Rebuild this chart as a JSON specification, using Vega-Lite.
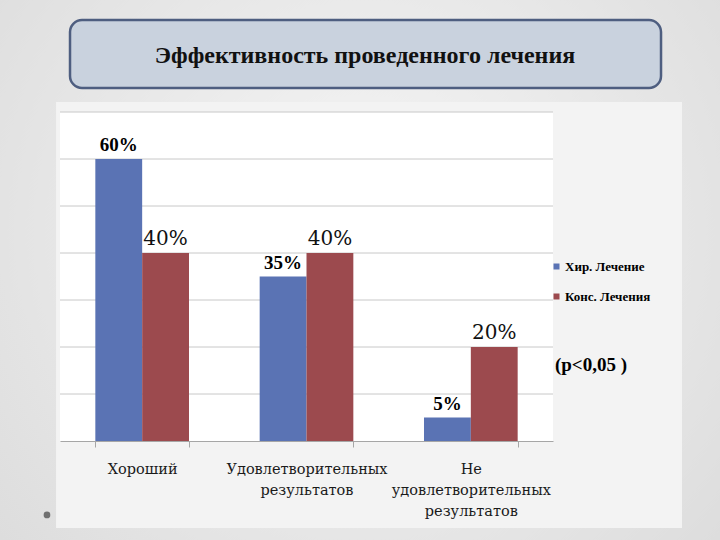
{
  "$schema": "https://vega.github.io/schema/vega-lite/v6.json",
  "width": 493,
  "height": 329,
  "autosize": {"type": "none"},
  "padding": {"left": 60, "top": 112, "right": 167, "bottom": 99},
  "background": "#e2e2e2",
  "config": {"view": {"stroke": null}, "font": "Liberation Serif"},
  "datasets": {
    "bars": [
      {"category": "Хороший", "series": "Хир. Лечение", "value": 0.60},
      {"category": "Хороший", "series": "Конс. Лечения", "value": 0.40},
      {"category": "Удовлетворительных\nрезультатов", "series": "Хир. Лечение", "value": 0.35},
      {"category": "Удовлетворительных\nрезультатов", "series": "Конс. Лечения", "value": 0.40},
      {"category": "Не\nудовлетворительных\nрезультатов", "series": "Хир. Лечение", "value": 0.05},
      {"category": "Не\nудовлетворительных\nрезультатов", "series": "Конс. Лечения", "value": 0.20}
    ],
    "grid": [
      {"level": 0.1}, {"level": 0.2}, {"level": 0.3}, {"level": 0.4},
      {"level": 0.5}, {"level": 0.6}, {"level": 0.7}
    ]
  },
  "resolve": {"scale": {"x": "independent"}},
  "layer": [
    {
      "data": {"values": [{}]},
      "mark": {"type": "rect", "color": {"gradient": "radial", "x1": 0.5, "y1": 0.45, "r1": 0, "x2": 0.5, "y2": 0.45, "r2": 0.75,
        "stops": [{"offset": 0, "color": "#f6f6f6"}, {"offset": 1, "color": "#d9d9d9"}]}},
      "encoding": {
        "x": {"datum": -0.13, "type": "quantitative", "scale": {"domain": [0, 1]}, "axis": null},
        "x2": {"datum": 1.35},
        "y": {"datum": 0.95, "type": "quantitative", "scale": {"domain": [0, 0.7]}, "axis": null},
        "y2": {"datum": -0.22}
      }
    },
    {
      "data": {"values": [{}]},
      "mark": {"type": "rect", "color": "#f3f3f3"},
      "encoding": {
        "x": {"datum": -0.008, "type": "quantitative", "scale": {"domain": [0, 1]}, "axis": null},
        "x2": {"datum": 1.2617},
        "y": {"datum": 0.7213, "type": "quantitative", "scale": {"domain": [0, 0.7]}, "axis": null},
        "y2": {"datum": -0.1851}
      }
    },
    {
      "data": {"values": [{}]},
      "mark": {"type": "rect", "color": "#ffffff"},
      "encoding": {
        "x": {"datum": 0, "type": "quantitative", "scale": {"domain": [0, 1]}, "axis": null},
        "x2": {"datum": 1},
        "y": {"datum": 0.7, "type": "quantitative", "scale": {"domain": [0, 0.7]}, "axis": null},
        "y2": {"datum": 0}
      }
    },
    {
      "data": {"values": [{}]},
      "mark": {"type": "point", "filled": true, "color": "#707070", "size": 45, "opacity": 1},
      "encoding": {
        "x": {"datum": -0.0264, "type": "quantitative", "scale": {"domain": [0, 1]}, "axis": null},
        "y": {"datum": -0.1574, "type": "quantitative", "scale": {"domain": [0, 0.7]}, "axis": null}
      }
    },
    {
      "data": {"values": [{}]},
      "mark": {"type": "rect", "fill": "#c9d2de", "stroke": "#4e5e80", "strokeWidth": 2.5, "cornerRadius": 12},
      "encoding": {
        "x": {"datum": 0.0203, "type": "quantitative", "scale": {"domain": [0, 1]}, "axis": null},
        "x2": {"datum": 1.2191},
        "y": {"datum": 0.8957, "type": "quantitative", "scale": {"domain": [0, 0.7]}, "axis": null},
        "y2": {"datum": 0.7511}
      }
    },
    {
      "data": {"values": [{}]},
      "mark": {"type": "text", "text": "Эффективность проведенного лечения", "font": "Liberation Serif", "fontSize": 24, "fontWeight": "bold", "color": "#111111", "align": "center", "baseline": "alphabetic"},
      "encoding": {
        "x": {"datum": 0.6187, "type": "quantitative", "scale": {"domain": [0, 1]}, "axis": null},
        "y": {"datum": 0.805, "type": "quantitative", "scale": {"domain": [0, 0.7]}, "axis": null}
      }
    },
    {
      "data": {"values": [{}]},
      "mark": {"type": "text", "text": "(p<0,05 )", "font": "Liberation Serif", "fontSize": 19, "fontWeight": "bold", "color": "#000000", "align": "left", "baseline": "alphabetic"},
      "encoding": {
        "x": {"datum": 1.004, "type": "quantitative", "scale": {"domain": [0, 1]}, "axis": null},
        "y": {"datum": 0.149, "type": "quantitative", "scale": {"domain": [0, 0.7]}, "axis": null}
      }
    },
    {
      "data": {"name": "grid"},
      "mark": {"type": "rule", "color": "#c8c8c8", "strokeWidth": 1},
      "encoding": {
        "y": {"field": "level", "type": "quantitative", "scale": {"domain": [0, 0.7]}, "axis": null}
      }
    },
    {
      "data": {"name": "bars"},
      "encoding": {
        "x": {"field": "category", "type": "nominal", "sort": null,
          "scale": {"paddingInner": 0.43, "paddingOuter": 0.215}},
        "xOffset": {"field": "series", "type": "nominal", "sort": null,
          "scale": {"domain": ["Хир. Лечение", "Конс. Лечения"], "paddingInner": 0, "paddingOuter": 0}},
        "y": {"field": "value", "type": "quantitative", "scale": {"domain": [0, 0.7]}, "axis": null}
      },
      "layer": [
        {
          "mark": {"type": "bar"},
          "encoding": {
            "x": {"field": "category", "type": "nominal", "sort": null,
              "scale": {"paddingInner": 0.43, "paddingOuter": 0.215},
              "axis": {"title": null, "labelAngle": 0, "labelFont": "DejaVu Serif", "labelFontSize": 14.5,
                "labelColor": "#1a1a1a", "labelExpr": "split(datum.label, '\\n')", "labelLineHeight": 21,
                "labelBaseline": "alphabetic", "labelPadding": 26, "tickBand": "extent", "tickSize": 6,
                "tickColor": "#a6a6a6", "domainColor": "#a6a6a6", "labelLimit": 300, "labelOverlap": false,
                "zindex": 1}},
            "color": {"field": "series", "type": "nominal", "sort": null,
              "scale": {"domain": ["Хир. Лечение", "Конс. Лечения"], "range": ["#5a73b4", "#9c4a4e"]},
              "legend": {"title": null, "orient": "none", "legendX": 490, "legendY": 148, "symbolType": "square",
                "symbolSize": 36, "symbolStrokeWidth": 0, "labelFont": "Liberation Serif", "labelFontWeight": "bold",
                "labelFontSize": 13, "labelColor": "#000000", "rowPadding": 16, "labelOffset": 2, "labelLimit": 200,
                "zindex": 1}}
          }
        },
        {
          "transform": [{"filter": "datum.series === 'Хир. Лечение'"}],
          "mark": {"type": "text", "font": "Liberation Serif", "fontSize": 19, "fontWeight": "bold", "color": "#000000", "baseline": "alphabetic", "dy": -8},
          "encoding": {"text": {"field": "value", "type": "quantitative", "format": ".0%"}}
        },
        {
          "transform": [{"filter": "datum.series === 'Конс. Лечения'"}],
          "mark": {"type": "text", "font": "DejaVu Serif", "fontSize": 20, "fontWeight": "normal", "color": "#111111", "baseline": "alphabetic", "dy": -8},
          "encoding": {"text": {"field": "value", "type": "quantitative", "format": ".0%"}}
        }
      ]
    }
  ]
}
